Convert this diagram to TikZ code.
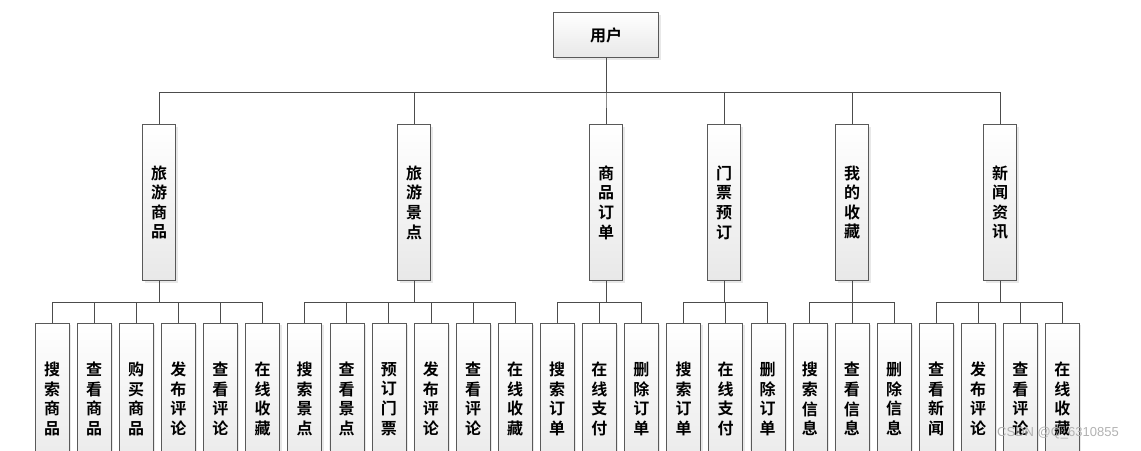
\documentclass[tikz,border=0pt]{standalone}
\usepackage{fontspec}
\newfontfamily\cjk{Noto Sans CJK SC}[BoldFont={Noto Sans CJK SC Bold}]
\newfontfamily\wmfont{Liberation Sans}
\usetikzlibrary{positioning, calc, shadows}

\begin{document}
\begin{tikzpicture}[x=1pt, y=-1pt, node distance=7.7pt,
  box/.style={draw=gray!70!black, top color=white, bottom color=gray!18,
    drop shadow={shadow xshift=2pt, shadow yshift=-2pt, fill=gray!35},
    font=\cjk\bfseries\fontsize{16}{19.6}\selectfont, align=center, inner sep=0pt},
  rootbox/.style={box, minimum width=105pt, minimum height=45pt},
  midbox/.style={box, minimum width=33pt, minimum height=156pt},
  leafbox/.style={box, minimum width=34pt, minimum height=152pt},
  tree/.style={draw=gray!60!black, line width=0.8pt,
    to path={|- ($(\tikztostart)!0.52!(\tikztotarget)$) -| (\tikztotarget)}}]
\useasboundingbox (0,0) rectangle (1141,450);
\clip (0,0) rectangle (1141,450);

\node (U) [rootbox] at (606,35) {用户};

\node (A) [midbox] at (159,202.5) {旅\\游\\商\\品};
\node (B) [midbox] at (414,202.5) {旅\\游\\景\\点};
\node (C) [midbox] at (606,202.5) {商\\品\\订\\单};
\node (D) [midbox] at (724,202.5) {门\\票\\预\\订};
\node (E) [midbox] at (852,202.5) {我\\的\\收\\藏};
\node (F) [midbox] at (1000,202.5) {新\\闻\\资\\讯};

\node (A1) [leafbox] at (52,399) {搜\\索\\商\\品};
\node (A2) [leafbox, right=of A1] {查\\看\\商\\品};
\node (A3) [leafbox, right=of A2] {购\\买\\商\\品};
\node (A4) [leafbox, right=of A3] {发\\布\\评\\论};
\node (A5) [leafbox, right=of A4] {查\\看\\评\\论};
\node (A6) [leafbox, right=of A5] {在\\线\\收\\藏};
\node (B1) [leafbox, right=of A6] {搜\\索\\景\\点};
\node (B2) [leafbox, right=of B1] {查\\看\\景\\点};
\node (B3) [leafbox, right=of B2] {预\\订\\门\\票};
\node (B4) [leafbox, right=of B3] {发\\布\\评\\论};
\node (B5) [leafbox, right=of B4] {查\\看\\评\\论};
\node (B6) [leafbox, right=of B5] {在\\线\\收\\藏};
\node (C1) [leafbox, right=of B6] {搜\\索\\订\\单};
\node (C2) [leafbox, right=of C1] {在\\线\\支\\付};
\node (C3) [leafbox, right=of C2] {删\\除\\订\\单};
\node (D1) [leafbox, right=of C3] {搜\\索\\订\\单};
\node (D2) [leafbox, right=of D1] {在\\线\\支\\付};
\node (D3) [leafbox, right=of D2] {删\\除\\订\\单};
\node (E1) [leafbox, right=of D3] {搜\\索\\信\\息};
\node (E2) [leafbox, right=of E1] {查\\看\\信\\息};
\node (E3) [leafbox, right=of E2] {删\\除\\信\\息};
\node (F1) [leafbox, right=of E3] {查\\看\\新\\闻};
\node (F2) [leafbox, right=of F1] {发\\布\\评\\论};
\node (F3) [leafbox, right=of F2] {查\\看\\评\\论};
\node (F4) [leafbox, right=of F3] {在\\线\\收\\藏};

\path[tree] (U.south) edge (A.north) edge (B.north) edge (C.north)
  edge (D.north) edge (E.north) edge (F.north);
\path[tree] (A.south) edge (A1.north) edge (A2.north) edge (A3.north)
  edge (A4.north) edge (A5.north) edge (A6.north);
\path[tree] (B.south) edge (B1.north) edge (B2.north) edge (B3.north)
  edge (B4.north) edge (B5.north) edge (B6.north);
\path[tree] (C.south) edge (C1.north) edge (C2.north) edge (C3.north);
\path[tree] (D.south) edge (D1.north) edge (D2.north) edge (D3.north);
\path[tree] (E.south) edge (E1.north) edge (E2.north) edge (E3.north);
\path[tree] (F.south) edge (F1.north) edge (F2.north) edge (F3.north)
  edge (F4.north);

\node (wm) at (1058,433) [text=gray!60, font=\wmfont\fontsize{13}{15}\selectfont] {CSDN @Q\_6310855};
\end{tikzpicture}
\end{document}
